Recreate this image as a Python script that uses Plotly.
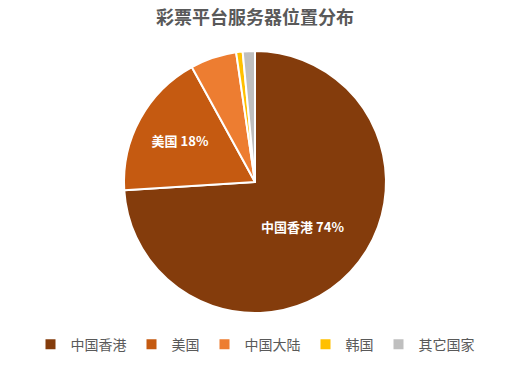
import plotly.graph_objects as go

labels = ["中国香港", "美国", "中国大陆", "韩国", "其它国家"]
values = [74, 18, 5.7, 0.8, 1.5]
label_text = ["<b>中国香港 74%</b>", "<b>美国 18%</b>", "", "", ""]
colors = ["#843C0C", "#C55A11", "#ED7D31", "#FFC000", "#BFBFBF"]

fig = go.Figure(go.Pie(
    labels=labels,
    values=values,
    text=label_text,
    textinfo="text",
    textposition="inside",
    insidetextorientation="horizontal",
    textfont=dict(family="Noto Sans CJK SC", size=13, color="white"),
    marker=dict(colors=colors, line=dict(color="white", width=2)),
    sort=False,
    direction="clockwise",
    rotation=0,
    hoverinfo="label+percent",
))

fig.update_layout(
    width=510, height=369,
    margin=dict(l=0, r=0, t=51, b=56),
    paper_bgcolor="white",
    title=dict(text="<b>彩票平台服务器位置分布</b>", x=0.5, xanchor="center", y=0.952, yanchor="middle",
               font=dict(family="Noto Sans CJK SC", size=18, color="#595959")),
    legend=dict(orientation="h", x=0.5, xanchor="center", y=-0.06, yanchor="top",
                font=dict(family="Noto Sans CJK SC", size=14, color="#595959"),
                itemwidth=30, traceorder="normal"),
)

fig.write_html("out.html")
